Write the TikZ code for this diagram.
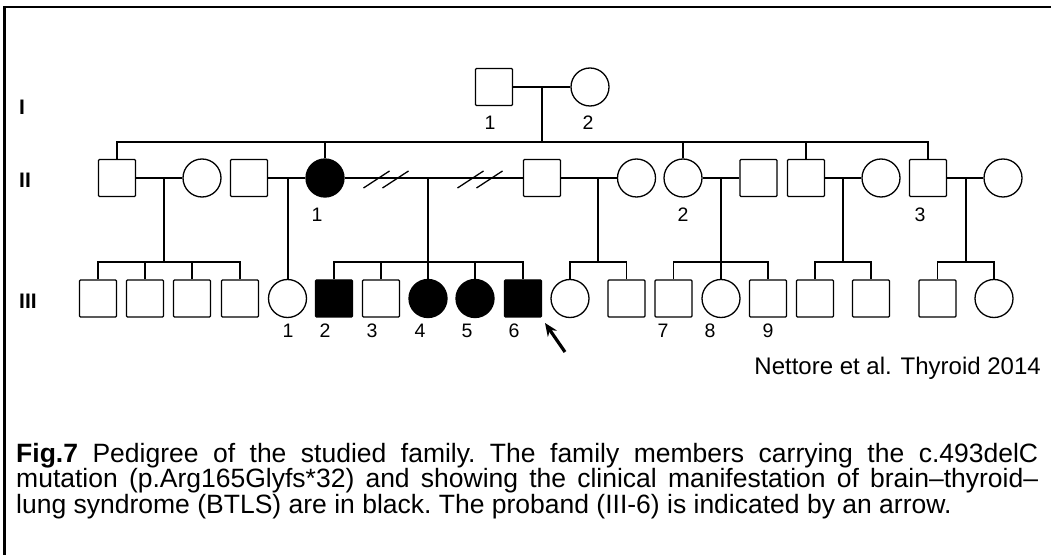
\documentclass[tikz,border=0pt]{standalone}
\usepackage{fontspec}
\setmainfont{Liberation Sans}
\usetikzlibrary{arrows.meta}
\tikzset{
  male/.style={draw, rectangle, rounded corners=1bp, minimum size=37bp, inner sep=0, line width=1.3bp},
  female/.style={draw, circle, minimum size=38bp, inner sep=0, line width=1.3bp},
  affected/.style={fill=black},
  num/.style={font=\fontsize{19.5bp}{19.5bp}\selectfont, inner sep=0},
  gen/.style={font=\fontsize{21bp}{21bp}\selectfont\bfseries, anchor=west, inner sep=0},
  link/.style={line width=1.3bp},
  proband/.style={line width=3.2bp, -{Stealth[length=13bp,width=11bp]}}
}
\begin{document}
\begin{tikzpicture}[x=1bp, y=-1bp]
  \useasboundingbox (0,0) rectangle (1051,555);
  % frame (only top and left edges show)
  \draw [line width=2.8bp] (1051,7) -- (4.5,7) -- (4.5,555);

  % generation labels
  \node [gen] (gI) at (19,107) {I};
  \node [gen] (gII) at (19,180) {II};
  \node [gen] (gIII) at (19,301) {III};

  % generation I
  \node [male] (I1) at (494,87) {};
  \node [female] (I2) at (590,87) {};
  \node [num] (nI1) at (490,123) {1};
  \node [num] (nI2) at (588,123) {2};
  \coordinate (mI) at (542,87);
  \coordinate (sI) at (542,142);
  \draw [link] (I1) -- (I2);
  \draw [link] (mI) -- (sI);

  % generation II
  \node [male] (IIa) at (117,178) {};
  \node [female] (IIaw) at (202,178) {};
  \node [male] (IIb) at (249,178) {};
  \node [female, affected] (II1) at (325,178) {};
  \node [male] (IIc) at (542,178) {};
  \node [female] (IIcw) at (636.5,178) {};
  \node [female] (II2) at (683,178) {};
  \node [male] (II2h) at (758.5,178) {};
  \node [male] (IId) at (806,178) {};
  \node [female] (IIdw) at (881,178) {};
  \node [male] (II3) at (928,178) {};
  \node [female] (II3w) at (1003,178) {};
  \node [num] (nII1) at (317,215) {1};
  \node [num] (nII2) at (683,215) {2};
  \node [num] (nII3) at (920,215) {3};

  \draw [link] (IIa.north) |- (sI) -| (II3.north);
  \foreach \n in {II1, II2, IId}
    \draw [link] (\n.north) -- (\n.north |- sI);

  \draw [link] (IIa) -- (IIaw);
  \draw [link] (IIb) -- (II1);
  \draw [link] (II1) -- (IIc);
  \draw [link] (IIc) -- (IIcw);
  \draw [link] (II2) -- (II2h);
  \draw [link] (IId) -- (IIdw);
  \draw [link] (II3) -- (II3w);

  % separation marks on the line II-1 -- IIc
  \foreach \cx in {386, 480}
    \foreach \dx in {-9.5, 9.5}
      \draw [link] (\cx+\dx-13,188) -- (\cx+\dx+13,171);

  % generation III
  \foreach \x [count=\i] in {98, 145, 192, 240}
    \node [male] (IIIa\i) at (\x,298.5) {};
  \node [female] (III1) at (287.5,298.5) {};
  \node [male, affected] (III2) at (334,298.5) {};
  \node [male] (III3) at (381,298.5) {};
  \node [female, affected] (III4) at (428,298.5) {};
  \node [female, affected] (III5) at (475,298.5) {};
  \node [male, affected] (III6) at (523,298.5) {};
  \node [female] (IIIc1) at (570,298.5) {};
  \node [male] (IIIc2) at (626.5,298.5) {};
  \node [male] (III7) at (673.5,298.5) {};
  \node [female] (III8) at (721,298.5) {};
  \node [male] (III9) at (768,298.5) {};
  \node [male] (IIId1) at (815,298.5) {};
  \node [male] (IIId2) at (871,298.5) {};
  \node [male] (IIIe1) at (937.5,298.5) {};
  \node [female] (IIIe2) at (994,298.5) {};

  \foreach \n/\x in {1/288, 2/325, 3/372, 4/420, 5/467, 6/514, 7/663, 8/710, 9/768}
    \node [num] (nIII\n) at (\x,331) {\n};

  % descent lines
  \coordinate (mA) at (164,178);
  \coordinate (sA) at (164,262);
  \draw [link] (mA) -- (sA);
  \draw [link] (IIIa1.north) |- (sA) -| (IIIa4.north);
  \foreach \n in {IIIa2, IIIa3}
    \draw [link] (\n.north) -- (\n.north |- sA);

  \coordinate (mB) at (288,178);
  \draw [link] (mB) -- (mB |- III1.north);

  \coordinate (mD) at (428,178);
  \coordinate (sD) at (428,262);
  \draw [link] (mD) -- (III4.north);
  \draw [link] (III2.north) |- (sD) -| (III6.north);
  \foreach \n in {III3, III5}
    \draw [link] (\n.north) -- (\n.north |- sD);

  \coordinate (mC) at (598,178);
  \coordinate (sC) at (598,262);
  \draw [link] (mC) -- (sC);
  \draw [link] (IIIc1.north) |- (sC) -| (IIIc2.north);

  \coordinate (m2) at (721,178);
  \coordinate (s2) at (721,262);
  \draw [link] (m2) -- (III8.north);
  \draw [link] (III7.north) |- (s2) -| (III9.north);

  \coordinate (mE) at (843,178);
  \coordinate (sE) at (843,262);
  \draw [link] (mE) -- (sE);
  \draw [link] (IIId1.north) |- (sE) -| (IIId2.north);

  \coordinate (m3) at (966,178);
  \coordinate (s3) at (966,262);
  \draw [link] (m3) -- (s3);
  \draw [link] (IIIe1.north) |- (s3) -| (IIIe2.north);

  % proband arrow
  \coordinate (ptail) at (565,352);
  \coordinate (ptip) at (545,323);
  \draw [proband] (ptail) -- (ptip);

  % source and caption
  \node [anchor=east, inner sep=0, font=\fontsize{24bp}{24bp}\selectfont]
    (source) at (1041,368) {Nettore et al. Thyroid 2014};
  \node [anchor=base west, inner sep=0] (caption) at (16,462)
    {\parbox[t]{1022bp}{\fontsize{26.5bp}{25.5bp}\selectfont
     \tolerance=10000 \hbadness=10000 \frenchspacing
     \textbf{Fig.7} Pedigree of the studied family. The family members carrying the c.493delC\linebreak
     mutation (p.Arg165Glyfs*32) and showing the clinical manifestation of brain--thyroid--\linebreak
     lung syndrome (BTLS) are in black. The proband (III-6) is indicated by an arrow.}};
\end{tikzpicture}
\end{document}
